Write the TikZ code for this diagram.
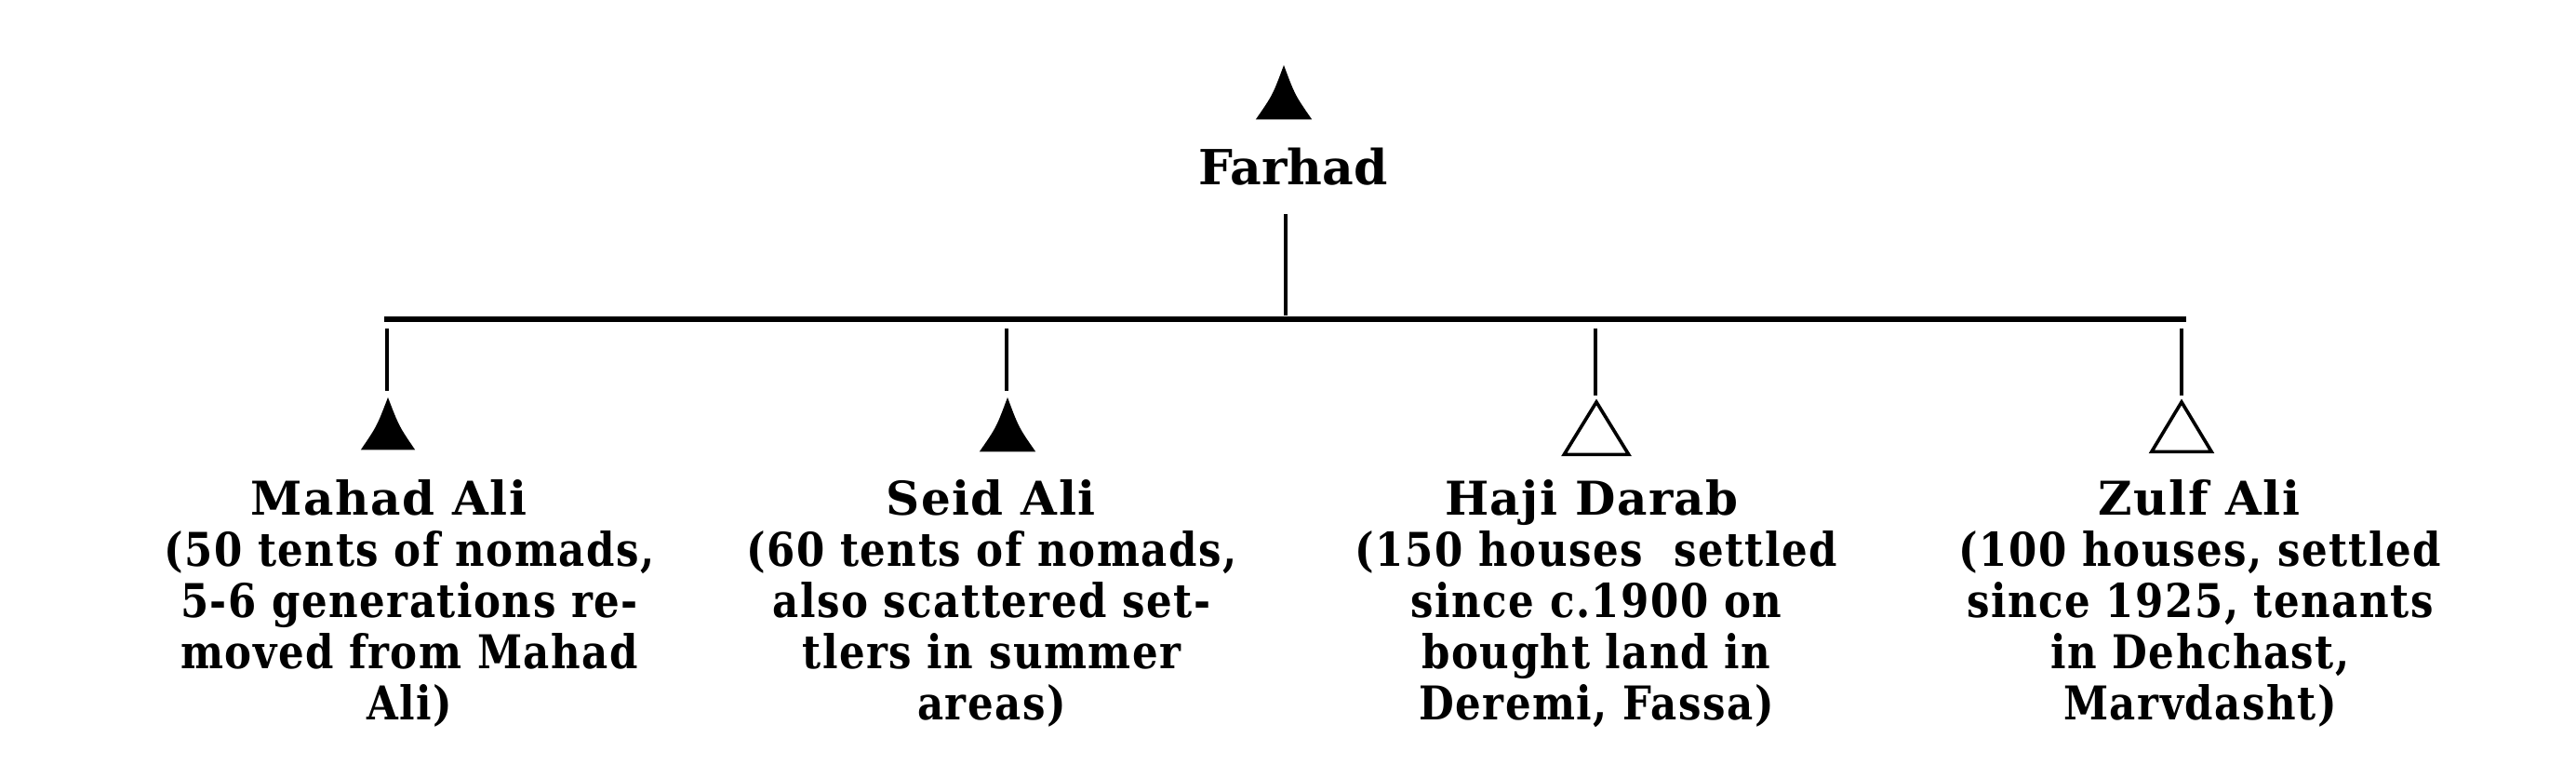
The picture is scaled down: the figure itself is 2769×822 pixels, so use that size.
\documentclass[tikz,border=0pt]{standalone}
\usepackage{fontspec}
\setmainfont{DejaVu Serif}
\newfontfamily\namefont[LetterSpace=3]{DejaVu Serif Bold}
\newfontfamily\rootfont{DejaVu Serif Bold}
\newfontfamily\descfont[LetterSpace=3, FakeStretch=0.87]{DejaVu Serif Bold}
\usetikzlibrary{calc}
\tikzset{
  namelabel/.style={anchor=base, inner sep=0pt, font=\namefont\fontsize{50}{55}\selectfont},
  rootlabel/.style={anchor=base, inner sep=0pt, font=\rootfont\fontsize{52}{60}\selectfont},
  desclabel/.style={anchor=base, inner sep=0pt, font=\descfont\fontsize{50}{55}\selectfont},
  tribox/.style={inner sep=0pt, anchor=north},
  barline/.style={line width=5.5pt},
  stemline/.style={line width=3.6pt},
  tentfill/.style={fill=black},
  tentline/.style={draw=black, line width=3.6pt, line join=miter},
}
\begin{document}
\begin{tikzpicture}[x=1pt,y=1pt]
\fill[white] (0,0) rectangle (2769,-822);
\useasboundingbox (0,0) rectangle (2769,-822);

% root
\node[tribox, minimum width=60pt, minimum height=58pt] (t0) at (1380,-70) {};
\fill[tentfill] (t0.south west) .. controls ($(t0.center)+(-12,-3)$) .. (t0.north)
  .. controls ($(t0.center)+(12,-3)$) .. (t0.south east) -- cycle;
\node[rootlabel] (farhad) at (1390,-198) {Farhad};

% sibling bar
\coordinate (barL) at (413,-343);
\coordinate (barR) at (2350,-343);
\coordinate (fstem) at (1382,-230);
\draw[stemline, line width=4.2pt, shorten >=4pt] (fstem) -- (fstem |- barL);
\draw[barline] (barL) -- (barR);

% children symbols
\node[tribox, minimum width=58pt, minimum height=56pt] (t1) at (417,-427) {};
\node[tribox, minimum width=60pt, minimum height=58pt] (t2) at (1083,-427) {};
\node[tribox, minimum width=69pt, minimum height=56pt] (t3) at (1716,-432) {};
\node[tribox, minimum width=64pt, minimum height=53pt] (t4) at (2345,-432) {};

\foreach \t in {t1,t2}{
  \fill[tentfill] (\t.south west) .. controls ($(\t.center)+(-12,-3)$) .. (\t.north)
    .. controls ($(\t.center)+(12,-3)$) .. (\t.south east) -- cycle;
}
\foreach \t in {t3,t4}{
  \draw[tentline] (\t.south west) -- (\t.north) -- (\t.south east) -- cycle;
}

\coordinate (s1) at (416,-353);
\coordinate (s2) at (1082,-353);
\coordinate (s3) at (1715,-353);
\coordinate (s4) at (2345,-353);
\foreach \s/\t in {s1/t1,s2/t2,s3/t3,s4/t4}{
  \draw[stemline, shorten >=7pt] (\s) -- (\s |- \t.north);
}

% labels
\node[namelabel] (n1) at (418,-553) {Mahad Ali};
\node[namelabel] (n2) at (1065,-553) {Seid Ali};
\node[namelabel] (n3) at (1711,-553) {Haji Darab};
\node[namelabel] (n4) at (2364,-553) {Zulf Ali};

\node[desclabel] (d1) at (440,-608) {\begin{tabular}[t]{@{}c@{}}(50 tents of nomads,\\5-6 generations re-\\moved from Mahad\\Ali)\end{tabular}};
\node[desclabel] (d2) at (1066,-608) {\begin{tabular}[t]{@{}c@{}}(60 tents of nomads,\\also scattered set-\\tlers in summer\\areas)\end{tabular}};
\node[desclabel] (d3) at (1716,-608) {\begin{tabular}[t]{@{}c@{}}(150 houses\ \ settled\\since c.1900 on\\bought land in\\Deremi, Fassa)\end{tabular}};
\node[desclabel] (d4) at (2365,-608) {\begin{tabular}[t]{@{}c@{}}(100 houses, settled\\since 1925, tenants\\in Dehchast,\\Marvdasht)\end{tabular}};
\end{tikzpicture}
\end{document}
